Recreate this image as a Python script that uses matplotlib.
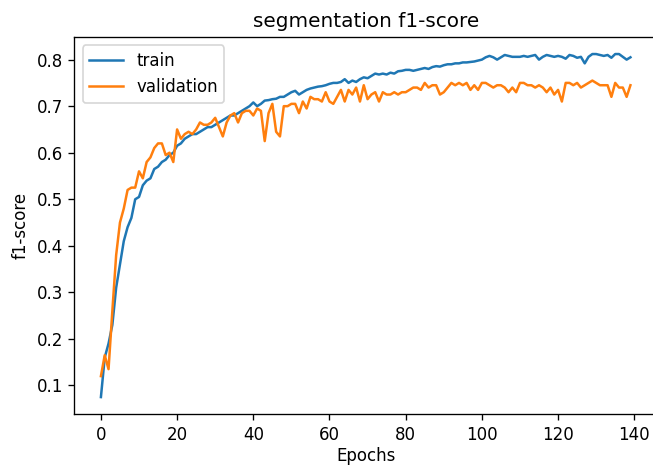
import matplotlib
matplotlib.use("Agg")
import matplotlib.pyplot as plt
import numpy as np

# f1-score per epoch
train_f1 = [
    0.075, 0.160, 0.190, 0.230, 0.310, 0.360, 0.410, 0.440, 0.460, 0.500,
    0.505, 0.530, 0.540, 0.545, 0.565, 0.570, 0.580, 0.585, 0.595, 0.600,
    0.615, 0.620, 0.630, 0.635, 0.640, 0.640, 0.645, 0.650, 0.655, 0.655,
    0.660, 0.665, 0.670, 0.675, 0.680, 0.680, 0.685, 0.690, 0.695, 0.700,
    0.708, 0.700, 0.705, 0.712, 0.713, 0.715, 0.716, 0.720, 0.720, 0.725,
    0.730, 0.733, 0.725, 0.730, 0.735, 0.738, 0.740, 0.742, 0.743, 0.745,
    0.748, 0.750, 0.750, 0.752, 0.758, 0.750, 0.755, 0.752, 0.758, 0.762,
    0.760, 0.765, 0.770, 0.768, 0.770, 0.768, 0.772, 0.770, 0.775, 0.776,
    0.778, 0.778, 0.776, 0.778, 0.780, 0.782, 0.780, 0.784, 0.786, 0.785,
    0.788, 0.790, 0.790, 0.792, 0.792, 0.794, 0.794, 0.795, 0.796, 0.798,
    0.800, 0.805, 0.808, 0.805, 0.800, 0.805, 0.810, 0.808, 0.806, 0.806,
    0.806, 0.808, 0.806, 0.808, 0.810, 0.800, 0.806, 0.810, 0.808, 0.806,
    0.808, 0.806, 0.802, 0.810, 0.808, 0.804, 0.806, 0.792, 0.806, 0.812,
    0.812, 0.810, 0.808, 0.810, 0.804, 0.812, 0.812, 0.806, 0.800, 0.805,
]

val_f1 = [
    0.120, 0.165, 0.135, 0.260, 0.380, 0.450, 0.480, 0.520, 0.525, 0.525,
    0.560, 0.545, 0.580, 0.590, 0.610, 0.620, 0.620, 0.595, 0.600, 0.580,
    0.650, 0.630, 0.640, 0.645, 0.640, 0.650, 0.665, 0.660, 0.660, 0.665,
    0.675, 0.655, 0.635, 0.665, 0.680, 0.685, 0.665, 0.685, 0.690, 0.690,
    0.680, 0.695, 0.690, 0.625, 0.685, 0.705, 0.645, 0.635, 0.700, 0.700,
    0.705, 0.705, 0.685, 0.710, 0.695, 0.720, 0.715, 0.715, 0.710, 0.730,
    0.710, 0.705, 0.720, 0.735, 0.710, 0.735, 0.725, 0.740, 0.710, 0.745,
    0.715, 0.725, 0.730, 0.710, 0.730, 0.725, 0.725, 0.730, 0.725, 0.730,
    0.730, 0.735, 0.740, 0.740, 0.735, 0.750, 0.740, 0.745, 0.745, 0.725,
    0.730, 0.740, 0.750, 0.745, 0.750, 0.745, 0.750, 0.735, 0.745, 0.735,
    0.750, 0.750, 0.745, 0.740, 0.745, 0.745, 0.740, 0.730, 0.740, 0.730,
    0.750, 0.750, 0.745, 0.745, 0.740, 0.745, 0.740, 0.730, 0.740, 0.725,
    0.735, 0.710, 0.750, 0.750, 0.745, 0.750, 0.740, 0.745, 0.750, 0.755,
    0.750, 0.745, 0.745, 0.745, 0.720, 0.750, 0.740, 0.740, 0.720, 0.745,
]

epochs = np.arange(len(train_f1))

# drawn small and saved at a higher dpi, so text and lines come out bigger
fig = plt.figure(figsize=(6.53 / 1.2, 4.67 / 1.2), dpi=120)
ax = fig.add_axes([0.114, 0.113, 0.892, 0.808])

ax.plot(epochs, train_f1, label="train")
ax.plot(epochs, val_f1, label="validation")
ax.set_title("segmentation f1-score")
ax.set_xlabel("Epochs", labelpad=2)
ax.set_ylabel("f1-score")
ax.legend(loc="upper left")

fig.savefig("out.png", dpi=120)
